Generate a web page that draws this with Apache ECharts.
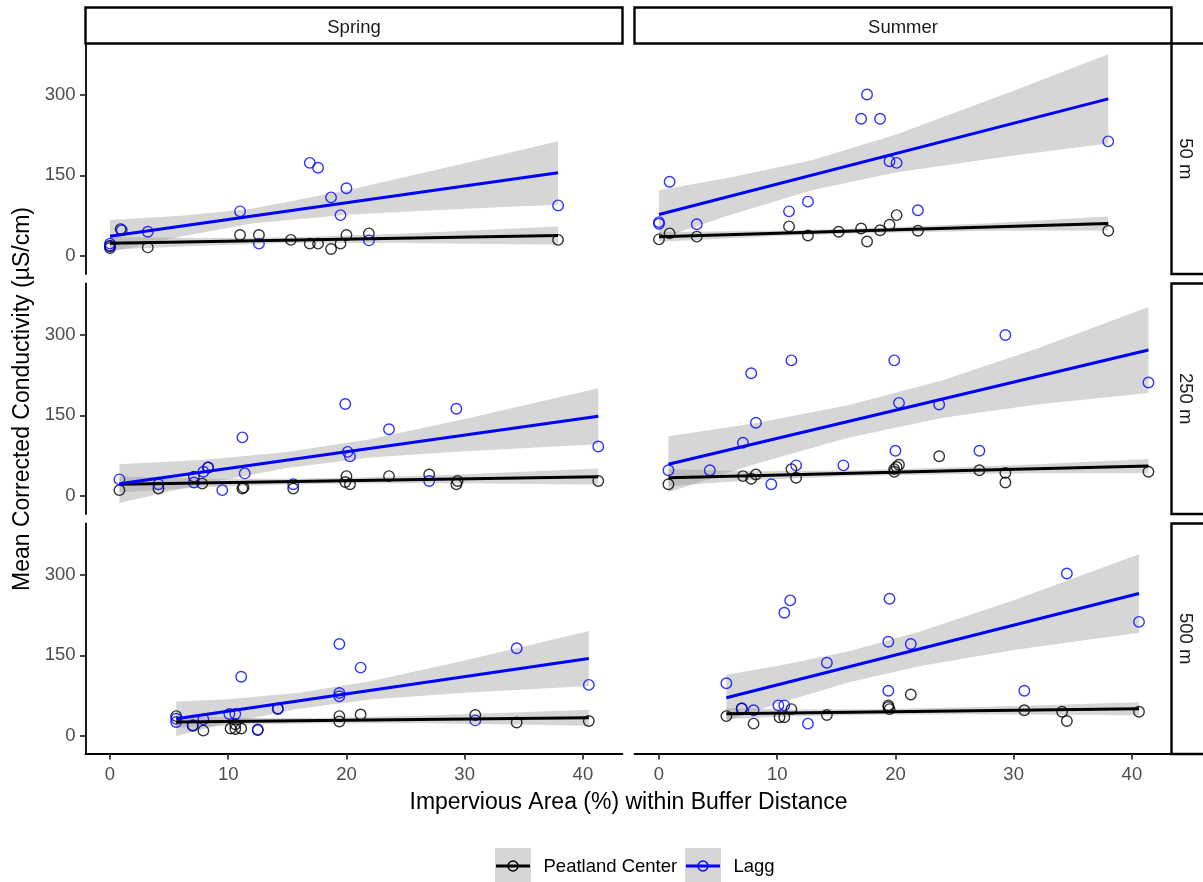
<!DOCTYPE html>
<html><head><meta charset="utf-8">
<script src="https://cdn.jsdelivr.net/npm/echarts@6/dist/echarts.min.js"></script>
<style>html,body{margin:0;padding:0;background:#fff}#c{width:1203px;height:882px}</style>
</head><body><div id="c"></div>
<script>
// ---------- labels ----------
const seasons = ['Spring', 'Summer'];
const distances = ['50 m', '250 m', '500 m'];
const groups = ['Peatland Center', 'Lagg'];
const xTicks = [0, 10, 20, 30, 40];
const yTicks = [0, 150, 300];
const xTitle = 'Impervious Area (%) within Buffer Distance';
const yTitle = 'Mean Corrected Conductivity (µS/cm)';

// ---------- Spring, 50 m ----------
const sp50_pcX = [0, 0, 0.9, 3.2, 11.0, 12.6, 15.3, 16.9, 17.6, 18.7, 19.5, 20.0, 21.9, 37.9];
const sp50_pcY = [15, 19, 50, 16, 39, 39, 30, 23, 23, 13, 23, 39, 42, 30];
const sp50_lgX = [0, 0, 1.0, 3.2, 11.0, 12.6, 16.9, 17.6, 18.7, 20.0, 19.5, 21.9, 37.9];
const sp50_lgY = [23, 18, 48, 45, 83, 23, 173, 164, 109, 126, 76, 29, 94];
const sp50_pcFitX = [0, 37.9], sp50_pcFitY = [23.5, 38];
const sp50_lgFitX = [0, 37.9], sp50_lgFitY = [36.8, 154.5];
const sp50_pcBandX = [0, 7.5, 15, 25, 37.9];
const sp50_pcBandLo = [11.8, 19.1, 24.2, 24.4, 21];
const sp50_pcBandHi = [35.2, 33.7, 34.2, 41.8, 55];
const sp50_lgBandX = [0, 6, 12, 20, 30, 37.9];
const sp50_lgBandLo = [6.8, 36.4, 60.4, 76.5, 87.8, 95.4];
const sp50_lgBandHi = [66.8, 74.6, 87.8, 121.5, 172.4, 213.4];

// ---------- Summer, 50 m ----------
const su50_pcX = [0, 0.9, 3.2, 11.0, 12.6, 15.2, 17.1, 17.6, 18.7, 19.5, 20.1, 21.9, 38.0];
const su50_pcY = [31, 42, 36, 55, 38, 45, 51, 27, 48, 58, 76, 47, 47];
const su50_lgX = [0, 0, 0.9, 3.2, 11.0, 12.6, 17.1, 17.6, 18.7, 19.5, 20.1, 21.9, 38.0];
const su50_lgY = [63, 60, 138, 59, 83, 101, 255, 300, 255, 176, 173, 85, 213];
const su50_pcFitX = [0, 38.0], su50_pcFitY = [35.6, 60.4];
const su50_lgFitX = [0, 38.0], su50_lgFitY = [77, 292];
const su50_pcBandX = [0, 10, 18, 28, 38];
const su50_pcBandLo = [26.6, 37.1, 42.9, 46.9, 47.4];
const su50_pcBandHi = [44.6, 47.1, 51.9, 60.9, 73.4];
const su50_lgBandX = [0, 6, 13, 20, 30, 38];
const su50_lgBandLo = [32, 76, 122.6, 155.2, 186.8, 209];
const su50_lgBandHi = [122, 146, 178.6, 225.2, 306.8, 375];

// ---------- Spring, 250 m ----------
const sp250_pcX = [0.8, 4.1, 7.1, 7.8, 8.3, 11.2, 11.3, 15.5, 20.0, 19.9, 20.3, 23.6, 27.0, 29.3, 29.4, 41.3];
const sp250_pcY = [11, 14, 36, 23, 53, 14, 16, 14, 37, 26, 22, 37, 40, 22, 28, 28];
const sp250_lgX = [0.8, 4.1, 7.1, 7.9, 8.3, 9.5, 11.2, 11.4, 15.5, 19.9, 20.1, 20.3, 23.6, 27.0, 29.3, 41.3];
const sp250_lgY = [31, 22, 25, 45, 53, 11, 109, 42, 22, 171, 82, 74, 124, 28, 162, 92];
const sp250_pcFitX = [0.8, 41.3], sp250_pcFitY = [21.7, 36];
const sp250_lgFitX = [0.8, 41.3], sp250_lgFitY = [23, 148.1];
const sp250_pcBandX = [0.8, 8, 15, 22, 30, 41.3];
const sp250_pcBandLo = [6.7, 16.2, 21.2, 23.7, 23.5, 21];
const sp250_pcBandHi = [36.7, 32.2, 32.2, 34.7, 40.5, 51];
const sp250_lgBandX = [0.8, 8, 15, 22, 30, 41.3];
const sp250_lgBandLo = [-13, 23.2, 51.9, 71.5, 83.2, 96.1];
const sp250_lgBandHi = [59, 67.2, 81.9, 105.5, 143.2, 200.1];

// ---------- Summer, 250 m ----------
const su250_pcX = [0.8, 7.1, 7.8, 8.2, 11.2, 11.6, 19.9, 20.1, 20.3, 19.9, 23.7, 27.1, 29.3, 29.3, 41.4];
const su250_pcY = [22, 37, 32, 40, 50, 34, 50, 54, 58, 45, 74, 48, 43, 25, 45];
const su250_lgX = [0.8, 4.3, 7.1, 7.8, 8.2, 9.5, 11.2, 11.6, 15.6, 19.9, 20.0, 20.3, 23.7, 27.1, 29.3, 41.4];
const su250_lgY = [48, 48, 99, 228, 136, 22, 252, 57, 57, 252, 84, 173, 170, 84, 299, 211];
const su250_pcFitX = [0.8, 41.4], su250_pcFitY = [34, 55.7];
const su250_lgFitX = [0.8, 41.4], su250_lgFitY = [58.9, 271.2];
const su250_pcBandX = [0.8, 8, 16, 24, 32, 41.4];
const su250_pcBandLo = [18, 29.9, 36.6, 40.4, 42.2, 42.7];
const su250_pcBandHi = [50, 45.9, 47.6, 52.4, 59.2, 68.7];
const su250_lgBandX = [0.8, 8, 16, 24, 32, 41.4];
const su250_lgBandLo = [6.9, 58.6, 108.4, 145.2, 170.1, 191.2];
const su250_lgBandHi = [110.9, 134.6, 168.4, 215.2, 274.1, 351.2];

// ---------- Spring, 500 m ----------
const sp500_pcX = [5.6, 7.0, 7.9, 10.2, 10.6, 10.6, 11.1, 12.5, 14.2, 19.4, 19.4, 21.2, 30.9, 34.4, 40.5];
const sp500_pcY = [37, 19, 10, 14, 22, 13, 14, 11, 51, 37, 27, 40, 39, 25, 28];
const sp500_lgX = [5.6, 5.6, 7.0, 7.9, 10.1, 10.6, 11.1, 12.5, 14.2, 19.4, 19.4, 19.4, 21.2, 30.9, 34.4, 40.5];
const sp500_lgY = [26, 32, 20, 31, 41, 41, 110, 12, 50, 80, 74, 171, 127, 29, 163, 95];
const sp500_pcFitX = [5.6, 40.5], sp500_pcFitY = [25.9, 33.9];
const sp500_lgFitX = [5.6, 40.5], sp500_lgFitY = [32.1, 144.2];
const sp500_pcBandX = [5.6, 12, 18, 26, 33, 40.5];
const sp500_pcBandLo = [14.9, 21.4, 23.7, 23.6, 21.7, 18.9];
const sp500_pcBandHi = [36.9, 33.4, 33.7, 37.6, 42.7, 48.9];
const sp500_lgBandX = [5.6, 10, 16, 22, 30, 40.5];
const sp500_lgBandLo = [0.1, 24.2, 50.5, 67.7, 80.4, 93.1];
const sp500_lgBandHi = [64.1, 68.2, 80.5, 101.7, 140.4, 195.1];

// ---------- Summer, 500 m ----------
const su500_pcX = [5.7, 7.0, 8.0, 10.2, 10.6, 11.2, 14.2, 19.4, 19.4, 19.5, 21.3, 30.9, 34.1, 34.5, 40.6];
const su500_pcY = [37, 51, 23, 35, 35, 50, 39, 57, 54, 50, 77, 48, 45, 28, 45];
const su500_lgX = [5.7, 7.0, 8.0, 10.1, 10.6, 10.6, 11.1, 12.6, 14.2, 19.4, 19.4, 19.5, 21.3, 30.9, 34.5, 40.6];
const su500_lgY = [98, 51, 48, 57, 229, 57, 252, 23, 136, 175, 84, 255, 171, 84, 302, 212];
const su500_pcFitX = [5.7, 40.6], su500_pcFitY = [41.4, 50.7];
const su500_lgFitX = [5.7, 40.6], su500_lgFitY = [71, 264.9];
const su500_pcBandX = [5.7, 12, 18, 26, 33, 40.6];
const su500_pcBandLo = [31.4, 37.1, 39.7, 40.3, 39.7, 38.7];
const su500_pcBandHi = [51.4, 49.1, 49.7, 53.3, 57.7, 62.7];
const su500_lgBandX = [5.7, 10, 16, 22, 30, 40.6];
const su500_lgBandLo = [28, 59.9, 99.2, 129.6, 160, 191.9];
const su500_lgBandHi = [114, 129.9, 157.2, 193.6, 252, 337.9];

// ---------- assemble panels (row-major: 50m, 250m, 500m; Spring then Summer) ----------
function P(season, dist, pcX, pcY, lgX, lgY, pcFX, pcFY, lgFX, lgFY, pcBX, pcBL, pcBH, lgBX, lgBL, lgBH) {
  return {season, dist, pcX, pcY, lgX, lgY, pcFX, pcFY, lgFX, lgFY, pcBX, pcBL, pcBH, lgBX, lgBL, lgBH};
}
const panels = [
  P(0, 0, sp50_pcX, sp50_pcY, sp50_lgX, sp50_lgY, sp50_pcFitX, sp50_pcFitY, sp50_lgFitX, sp50_lgFitY, sp50_pcBandX, sp50_pcBandLo, sp50_pcBandHi, sp50_lgBandX, sp50_lgBandLo, sp50_lgBandHi),
  P(1, 0, su50_pcX, su50_pcY, su50_lgX, su50_lgY, su50_pcFitX, su50_pcFitY, su50_lgFitX, su50_lgFitY, su50_pcBandX, su50_pcBandLo, su50_pcBandHi, su50_lgBandX, su50_lgBandLo, su50_lgBandHi),
  P(0, 1, sp250_pcX, sp250_pcY, sp250_lgX, sp250_lgY, sp250_pcFitX, sp250_pcFitY, sp250_lgFitX, sp250_lgFitY, sp250_pcBandX, sp250_pcBandLo, sp250_pcBandHi, sp250_lgBandX, sp250_lgBandLo, sp250_lgBandHi),
  P(1, 1, su250_pcX, su250_pcY, su250_lgX, su250_lgY, su250_pcFitX, su250_pcFitY, su250_lgFitX, su250_lgFitY, su250_pcBandX, su250_pcBandLo, su250_pcBandHi, su250_lgBandX, su250_lgBandLo, su250_lgBandHi),
  P(0, 2, sp500_pcX, sp500_pcY, sp500_lgX, sp500_lgY, sp500_pcFitX, sp500_pcFitY, sp500_lgFitX, sp500_lgFitY, sp500_pcBandX, sp500_pcBandLo, sp500_pcBandHi, sp500_lgBandX, sp500_lgBandLo, sp500_lgBandHi),
  P(1, 2, su500_pcX, su500_pcY, su500_lgX, su500_lgY, su500_pcFitX, su500_pcFitY, su500_lgFitX, su500_lgFitY, su500_pcBandX, su500_pcBandLo, su500_pcBandHi, su500_lgBandX, su500_lgBandLo, su500_lgBandHi)
];

// ---------- layout / style ----------
const FONT = 'Liberation Sans';
const colLeft = [85.5, 634.5], colWidth = 537;
const rowTop = [43.5, 283.5, 523.5], rowHeight = 230.5;
const X_MIN = -2.07, X_MAX = 43.35, Y_MIN = -33.4, Y_MAX = 394.8;
const colors = ['#000000', '#0000FF'];
const bandFill = 'rgba(153,153,153,0.4)';
const tickFont = 18.5, titleFont = 23;

const zip = (a, b) => a.map((v, i) => [v, b[i]]);

const grids = [], xAxes = [], yAxes = [], series = [];
panels.forEach((p, i) => {
  const isBottom = p.dist === 2, isLeft = p.season === 0;
  grids.push({left: colLeft[p.season], top: rowTop[p.dist], width: colWidth, height: rowHeight, containLabel: false, show: false});
  xAxes.push({
    gridIndex: i, type: 'value', min: X_MIN, max: X_MAX,
    axisLine: {show: isBottom, onZero: false, lineStyle: {color: '#000', width: 1.8}},
    axisTick: {show: isBottom, customValues: xTicks, length: 5.5, lineStyle: {color: '#333', width: 1.8}},
    axisLabel: {show: isBottom, customValues: xTicks, margin: 11, color: '#4D4D4D', fontSize: tickFont, fontFamily: FONT},
    splitLine: {show: false}
  });
  yAxes.push({
    gridIndex: i, type: 'value', min: Y_MIN, max: Y_MAX,
    axisLine: {show: isLeft, onZero: false, lineStyle: {color: '#000', width: 1.8}},
    axisTick: {show: isLeft, customValues: yTicks, length: 5.5, lineStyle: {color: '#333', width: 1.8}},
    axisLabel: {show: isLeft, customValues: yTicks, margin: 10, color: '#4D4D4D', fontSize: tickFont, fontFamily: FONT},
    splitLine: {show: false}
  });
  const bands = [[p.pcBX, p.pcBL, p.pcBH], [p.lgBX, p.lgBL, p.lgBH]];
  bands.forEach((b, g) => {
    const [bx, lo, hi] = b;
    series.push({
      type: 'custom', name: groups[g] + ' band', xAxisIndex: i, yAxisIndex: i, silent: true, z: 1,
      data: [[bx[0], lo[0]]],
      renderItem: (params, api) => {
        const pts = [];
        for (let k = 0; k < bx.length; k++) pts.push(api.coord([bx[k], hi[k]]));
        for (let k = bx.length - 1; k >= 0; k--) pts.push(api.coord([bx[k], lo[k]]));
        return {type: 'polygon', shape: {points: pts}, style: {fill: bandFill}};
      }
    });
  });
  const pts = [[p.pcX, p.pcY], [p.lgX, p.lgY]];
  pts.forEach((d, g) => {
    series.push({
      type: 'scatter', name: groups[g], xAxisIndex: i, yAxisIndex: i, z: 2,
      data: zip(d[0], d[1]), symbol: 'circle', symbolSize: 10.5,
      itemStyle: {color: 'rgba(0,0,0,0)', borderColor: colors[g], borderWidth: 1.4}
    });
  });
  const fits = [[p.pcFX, p.pcFY], [p.lgFX, p.lgFY]];
  fits.forEach((d, g) => {
    series.push({
      type: 'line', name: groups[g] + ' fit', xAxisIndex: i, yAxisIndex: i, z: 3,
      data: zip(d[0], d[1]), showSymbol: false, symbol: 'none',
      lineStyle: {color: colors[g], width: 3}
    });
  });
});

// ---------- strips, titles, legend (graphic) ----------
const graphic = [];
seasons.forEach((s, c) => {
  graphic.push({type: 'rect', shape: {x: colLeft[c], y: 7.5, width: colWidth, height: 36}, style: {fill: '#fff', stroke: '#000', lineWidth: 2.4}});
  graphic.push({type: 'text', x: colLeft[c] + colWidth / 2, y: 27.5, style: {text: s, fill: '#1A1A1A', fontSize: tickFont, fontFamily: FONT, align: 'center', verticalAlign: 'middle'}});
});
distances.forEach((d, r) => {
  graphic.push({type: 'rect', shape: {x: 1171.5, y: rowTop[r], width: 45, height: rowHeight}, style: {fill: '#fff', stroke: '#000', lineWidth: 2.4}});
  graphic.push({type: 'text', x: 1185, y: rowTop[r] + rowHeight / 2, rotation: -Math.PI / 2, style: {text: d, fill: '#1A1A1A', fontSize: tickFont, fontFamily: FONT, align: 'center', verticalAlign: 'middle'}});
});
graphic.push({type: 'text', x: 628.5, y: 803, style: {text: xTitle, fill: '#000', fontSize: titleFont, fontFamily: FONT, align: 'center', verticalAlign: 'middle'}});
graphic.push({type: 'text', x: 23, y: 399, rotation: Math.PI / 2, style: {text: yTitle, fill: '#000', fontSize: titleFont, fontFamily: FONT, align: 'center', verticalAlign: 'middle'}});
const legendKeyX = [495, 685], legendTextX = [543.5, 733.5];
groups.forEach((g, k) => {
  const x0 = legendKeyX[k];
  graphic.push({type: 'rect', shape: {x: x0, y: 848, width: 36, height: 36}, style: {fill: '#D6D6D6'}});
  graphic.push({type: 'line', shape: {x1: x0 + 1, y1: 866, x2: x0 + 35, y2: 866}, style: {stroke: colors[k], lineWidth: 3}});
  graphic.push({type: 'circle', shape: {cx: x0 + 18, cy: 866, r: 5}, style: {fill: 'rgba(0,0,0,0)', stroke: colors[k], lineWidth: 1.4}});
  graphic.push({type: 'text', x: legendTextX[k], y: 867, style: {text: g, fill: '#000', fontSize: tickFont, fontFamily: FONT, align: 'left', verticalAlign: 'middle'}});
});

const chart = echarts.init(document.getElementById('c'), null, {renderer: 'canvas'});
chart.setOption({
  animation: false,
  backgroundColor: '#fff',
  textStyle: {fontFamily: FONT},
  grid: grids, xAxis: xAxes, yAxis: yAxes, series: series, graphic: graphic
});
</script></body></html>
